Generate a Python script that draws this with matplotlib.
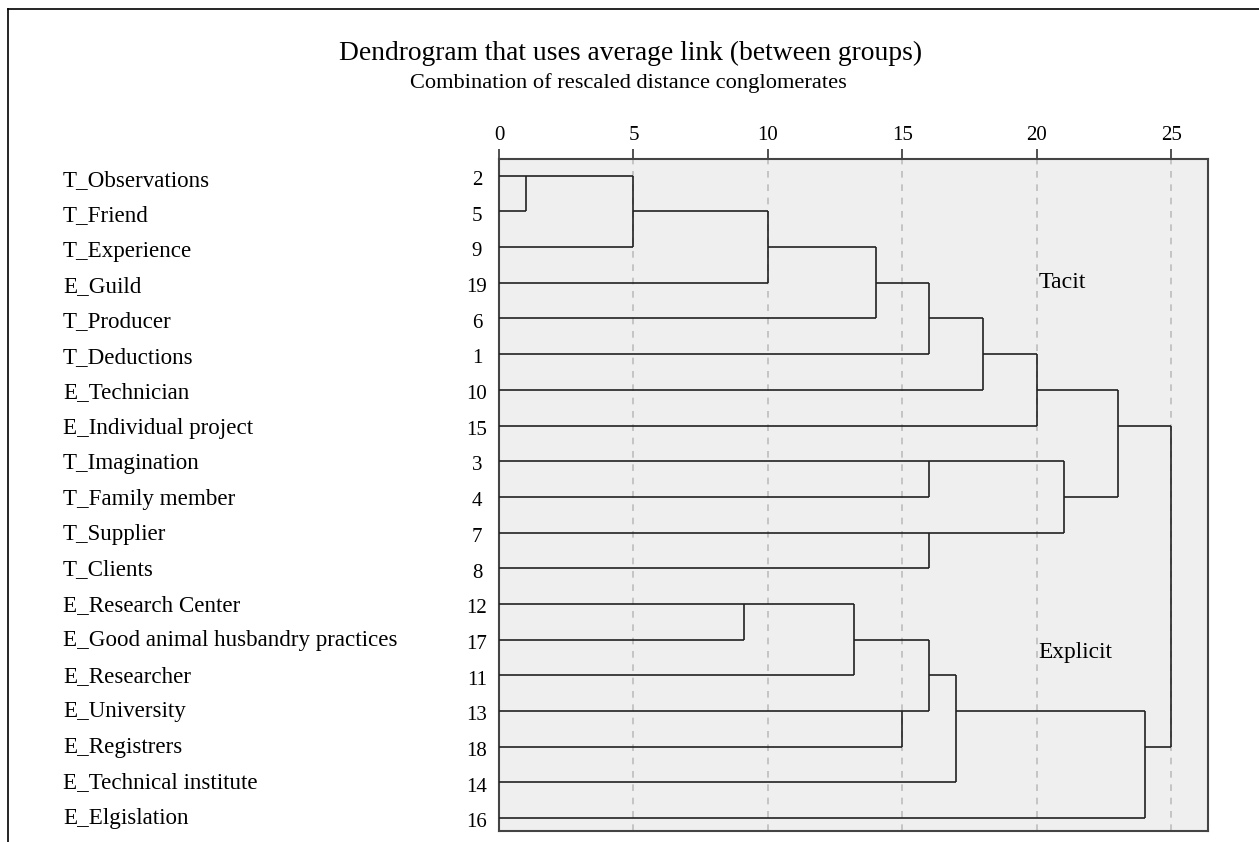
import matplotlib
matplotlib.use("Agg")
import matplotlib.pyplot as plt
from matplotlib.lines import Line2D
from matplotlib import transforms

plt.rcParams['font.family'] = ['Liberation Serif', 'DejaVu Serif']

# leaves, top to bottom
leaf_labels = ['T_Observations', 'T_Friend', 'T_Experience', 'E_Guild', 'T_Producer',
               'T_Deductions', 'E_Technician', 'E_Individual project', 'T_Imagination',
               'T_Family member', 'T_Supplier', 'T_Clients', 'E_Research Center',
               'E_Good animal husbandry practices', 'E_Researcher', 'E_University',
               'E_Registrers', 'E_Technical institute', 'E_Elgislation']
leaf_numbers = [2, 5, 9, 19, 6, 1, 10, 15, 3, 4, 7, 8, 12, 17, 11, 13, 18, 14, 16]

# merges: node ids 0..18 are leaves, merge k gets id 19+k
merge_left = [0, 19, 20, 21, 22, 23, 24, 8, 10, 26, 25, 12, 30, 15, 31, 33, 34, 29]
merge_right = [1, 2, 3, 4, 5, 6, 7, 9, 11, 27, 28, 13, 14, 16, 32, 17, 18, 35]
merge_height = [1, 5, 10, 14, 16, 18, 20, 16, 16, 21, 23, 9.1, 13.2, 15, 16, 17, 24, 25]
merge_row = [0, 1, 2, 3, 4, 5, 6, 8, 10, 9, 7, 12, 13, 15, 14, 15, 16, None]

x_ticks = [0, 5, 10, 15, 20, 25]

n = len(leaf_labels)
node_row = list(range(n)) + merge_row
node_h = [0] * n + merge_height

fig = plt.figure(figsize=(12.59, 8.42), dpi=100)
ax = fig.add_axes([499 / 1259, 1 - 830.5 / 842, (1207.5 - 499) / 1259, (830.5 - 159) / 842])
ax.set_facecolor('#efefef')

lc = '#222222'
for a, b, h in zip(merge_left, merge_right, merge_height):
    for c in (a, b):
        ax.plot([node_h[c], h], [node_row[c], node_row[c]], color=lc, lw=1.2,
                solid_capstyle='butt', zorder=3)
    ax.plot([h, h], [node_row[a], node_row[b]], color=lc, lw=1.2,
            solid_capstyle='butt', zorder=3)

for t in x_ticks:
    ax.axvline(t, color='#bdbdbd', lw=1.2, ls=(0, (4, 4)), zorder=1)

ax.set_xlim(0, 26.34)
ax.set_ylim(18.35, -0.47)
ax.xaxis.tick_top()
ax.set_xticks(x_ticks)
ax.set_xticklabels([str(t) for t in x_ticks], fontsize=15)
ax.tick_params(axis='x', length=7.2, width=1.2, color='#333333', pad=3)
ax.set_yticks([])
for s in ax.spines.values():
    s.set_color('#444444')
    s.set_linewidth(1.5)

# leaf numbers and names
trans = transforms.blended_transform_factory(fig.transFigure, ax.transData)
for i, (lab, num) in enumerate(zip(leaf_labels, leaf_numbers)):
    ax.text(-0.82, i + 0.26, str(num), ha='center', va='baseline', fontsize=15,
            clip_on=False)
    ax.text(63 / 1259, 0.28 + 0.993 * i, lab, transform=trans, ha='left',
            va='baseline', fontsize=16.6)

ax.text(20.05, 3, 'Tacit', ha='left', va='center', fontsize=17.2, zorder=4)
ax.text(20.05, 13.35, 'Explicit', ha='left', va='center', fontsize=16.8, zorder=4)

fig.text(631 / 1259, 1 - 60 / 842, 'Dendrogram that uses average link (between groups)',
         ha='center', va='baseline', fontsize=19.8)
fig.text(628 / 1259, 1 - 88 / 842, 'Combination of rescaled distance conglomerates',
         ha='center', va='baseline', fontsize=16.1)

# outer frame (top and left edges)
fig.add_artist(Line2D([8 / 1259, 1], [1 - 9 / 842, 1 - 9 / 842], color='black', lw=1.2,
                      transform=fig.transFigure))
fig.add_artist(Line2D([8 / 1259, 8 / 1259], [1 - 9 / 842, 0], color='black', lw=1.2,
                      transform=fig.transFigure))

fig.savefig('out.png', dpi=100)
